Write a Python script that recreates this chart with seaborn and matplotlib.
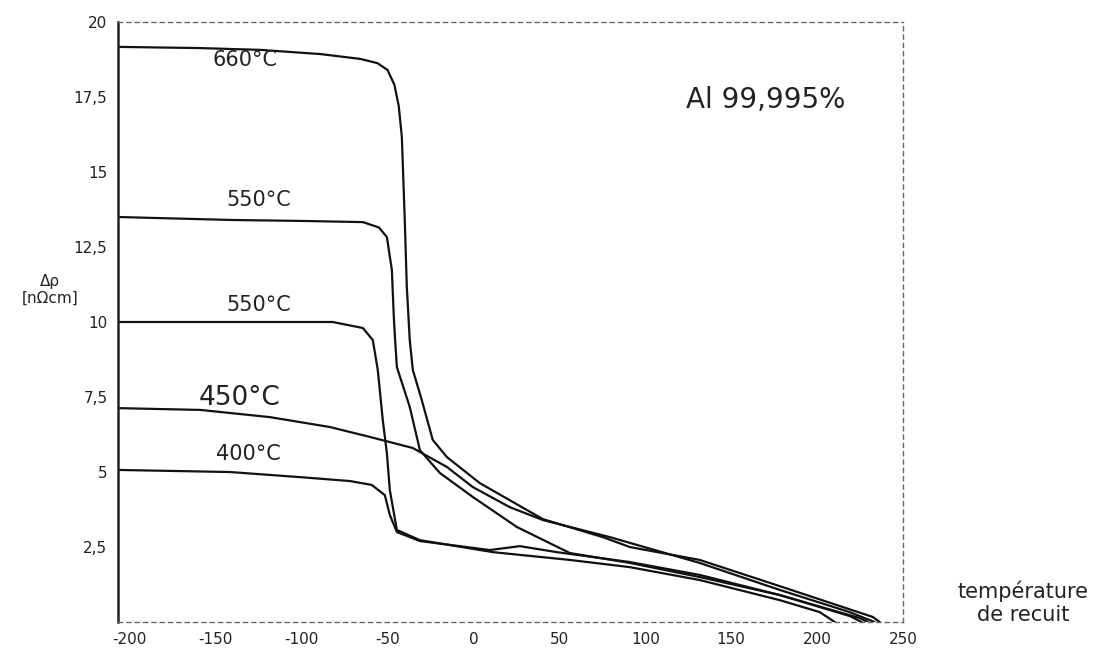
import numpy as np
import pandas as pd
import seaborn as sns
import matplotlib.pyplot as plt

x_660 = [-207, -159, -124, -89, -66, -56, -50, -46, -43.5, -41.7, -40, -38.8, -37.1, -35.3, -30.1, -23.7, -15.5, 3.7, 40.4, 75.3, 91, 131.7, 176.5, 232.4, 236.5]
y_660 = [19.17, 19.13, 19.07, 18.93, 18.77, 18.63, 18.4, 17.9, 17.2, 16.17, 13.4, 11.17, 9.4, 8.4, 7.4, 6.07, 5.5, 4.63, 3.43, 2.83, 2.5, 2.07, 1.23, 0.17, 0.0]

x_550a = [-207, -140, -101, -64.4, -55, -50.4, -47.5, -46.3, -45.6, -44.6, -37.1, -31.2, -19.6, -0.4, 25.2, 56.1, 91, 131.7, 178.3, 219, 226]
y_550a = [13.5, 13.4, 13.37, 13.33, 13.15, 12.83, 11.73, 10.07, 9.4, 8.5, 7.17, 5.73, 4.97, 4.17, 3.17, 2.3, 1.97, 1.5, 0.9, 0.2, 0.0]

x_550b = [-207, -81.9, -64.4, -58.6, -55.7, -52.8, -50.4, -48.7, -44.6, -31.2, 11.3, 56.1, 91, 131.7, 178.3, 201.6, 210.3]
y_550b = [10.0, 10.0, 9.8, 9.4, 8.4, 6.73, 5.63, 4.4, 3.07, 2.73, 2.33, 2.07, 1.83, 1.4, 0.73, 0.33, 0.0]

x_450 = [-207, -159, -118.5, -83.6, -60.3, -35.3, -31.2, -15.5, -0.4, 21.1, 40.4, 79.4, 131.7, 178.3, 219, 233.5]
y_450 = [7.13, 7.07, 6.83, 6.5, 6.17, 5.8, 5.67, 5.17, 4.5, 3.83, 3.4, 2.83, 1.97, 1.07, 0.33, 0.0]

x_400 = [-207, -141.8, -101, -72, -59.2, -51.6, -48.7, -44.6, -31.2, 9.5, 27, 48.5, 91, 131.7, 178.3, 225, 229.5]
y_400 = [5.07, 5.0, 4.83, 4.7, 4.57, 4.23, 3.57, 3.0, 2.7, 2.4, 2.53, 2.33, 2.0, 1.57, 0.9, 0.13, 0.0]

x_ticks = [-200, -150, -100, -50, 0, 50, 100, 150, 200, 250]
y_ticks = [2.5, 5, 7.5, 10, 12.5, 15, 17.5, 20]
y_tick_labels = ["2,5", "5", "7,5", "10", "12,5", "15", "17,5", "20"]

frames = []
for nom, xs, ys in [("660", x_660, y_660), ("550a", x_550a, y_550a),
                    ("550b", x_550b, y_550b), ("450", x_450, y_450),
                    ("400", x_400, y_400)]:
    frames.append(pd.DataFrame({"T": xs, "drho": ys, "courbe": nom}))
data = pd.concat(frames, ignore_index=True)

sns.set_style("white")
fig = plt.figure(figsize=(11.12, 6.66), dpi=100)
ax = fig.add_axes([0.106, 0.066, 0.706, 0.901])

sns.lineplot(data=data, x="T", y="drho", hue="courbe", units="courbe",
             estimator=None, sort=False, palette=["#111111"] * 5,
             linewidth=1.6, legend=False, ax=ax)

ax.set_xlim(-207, 250)
ax.set_ylim(0, 20)
ax.set_xticks(x_ticks)
ax.set_xticklabels([str(v) for v in x_ticks])
ax.set_yticks(y_ticks)
ax.set_yticklabels(y_tick_labels)
ax.set_xlabel("")
ax.set_ylabel("")
ax.tick_params(axis="both", direction="inout", length=8, width=1.2,
               labelsize=11, colors="#222222")

for s in ["top", "right", "bottom"]:
    ax.spines[s].set_linestyle((0, (3, 3)))
    ax.spines[s].set_color("#666666")
    ax.spines[s].set_linewidth(1.0)
ax.spines["left"].set_color("#222222")
ax.spines["left"].set_linewidth(1.8)

etiq = dict(fontsize=15, color="#222222", ha="center", va="center")
ax.text(-133, 18.73, "660°C", **etiq)
ax.text(-125, 14.07, "550°C", **etiq)
ax.text(-125, 10.57, "550°C", **etiq)
ax.text(-136, 7.47, "450°C", fontsize=19, color="#222222", ha="center", va="center")
ax.text(-131, 5.6, "400°C", **etiq)
ax.text(170, 17.4, "Al 99,995%", fontsize=20, color="#222222", ha="center", va="center")

fig.text(0.045, 0.565, "Δρ\n[nΩcm]", fontsize=11, color="#222222", ha="center", va="center")
fig.text(0.92, 0.095, "température\nde recuit", fontsize=15, color="#222222", ha="center", va="center")

plt.savefig("out.png", dpi=100)
